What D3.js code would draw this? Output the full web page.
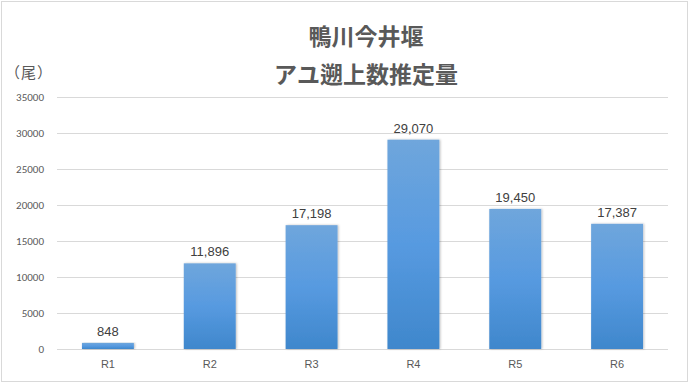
<!DOCTYPE html>
<html><head><meta charset="utf-8">
<script src="https://cdn.jsdelivr.net/npm/d3@7"></script>
<style>body{margin:0;background:#fff;}svg{display:block;}</style>
</head><body>
<script>
const categories = ["R1","R2","R3","R4","R5","R6"];
const values = [848, 11896, 17198, 29070, 19450, 17387];
const yTicks = [0,5000,10000,15000,20000,25000,30000,35000];
const titleLines = ["鴨川今井堰","アユ遡上数推定量"];
const unitLabel = "（尾）";

const W = 690, H = 384;
const svg = d3.select("body").append("svg").attr("width", W).attr("height", H);
const defs = svg.append("defs");
const grad = defs.append("linearGradient").attr("id","barGrad").attr("x1",0).attr("y1",0).attr("x2",0).attr("y2",1);
grad.append("stop").attr("offset","0%").attr("stop-color","#6fa6dc");
grad.append("stop").attr("offset","50%").attr("stop-color","#579ae0");
grad.append("stop").attr("offset","100%").attr("stop-color","#3f87cc");
const flt = defs.append("filter").attr("id","shadow").attr("x","-20%").attr("y","-5%").attr("width","140%").attr("height","110%");
flt.append("feDropShadow").attr("dx",1).attr("dy",0).attr("stdDeviation",1.2).attr("flood-color","#000").attr("flood-opacity",0.25);

svg.append("rect").attr("x",1.5).attr("y",1.5).attr("width",686).attr("height",380)
  .attr("fill","#fff").attr("stroke","#d9d9d9").attr("stroke-width",1);

const x = d3.scaleBand().domain(categories).range([57, 668]).paddingInner(0.49).paddingOuter(0.245);
const y = d3.scaleLinear().domain([0,35000]).range([349, 97]);

const font = "'Noto Sans CJK JP','Noto Sans',sans-serif";

// gridlines
svg.append("g").selectAll("line").data(yTicks).join("line")
  .attr("x1",57).attr("x2",668)
  .attr("y1",d=>Math.round(y(d))+0.5).attr("y2",d=>Math.round(y(d))+0.5)
  .attr("stroke","#d9d9d9").attr("stroke-width",1);

// y axis labels
const yAxis = d3.axisLeft(y).tickValues(yTicks).tickSize(0).tickPadding(0).tickFormat(d3.format("d"));
const ga = svg.append("g").attr("transform","translate(44,0)").call(yAxis);
ga.select(".domain").remove();
ga.selectAll("text").attr("fill","#595959").style("font-family","'Calibri','Carlito','Liberation Sans',sans-serif").style("font-size","11px");

// bars
svg.append("g").selectAll("rect").data(values).join("rect")
  .attr("x",(d,i)=>x(categories[i]))
  .attr("width",x.bandwidth())
  .attr("y",d=>y(d))
  .attr("height",d=>y(0)-y(d))
  .attr("fill","url(#barGrad)")
  .attr("filter","url(#shadow)");

// data labels
svg.append("g").selectAll("text").data(values).join("text")
  .attr("x",(d,i)=>x(categories[i])+x.bandwidth()/2)
  .attr("y",d=>y(d)-7)
  .attr("text-anchor","middle")
  .attr("fill","#404040")
  .style("font-family","'Liberation Sans','Noto Sans',sans-serif")
  .style("font-size","13px")
  .text(d=>d3.format(",")(d));

// x axis labels
const xAxis = d3.axisBottom(x).tickSize(0).tickPadding(0);
const gx = svg.append("g").attr("transform","translate(0,360)").call(xAxis);
gx.select(".domain").remove();
gx.selectAll("text").attr("fill","#595959").style("font-family","'Liberation Sans',sans-serif").style("font-size","11px");

// titles
svg.append("text").attr("x",366).attr("y",45).attr("text-anchor","middle")
  .attr("fill","#595959").style("font-family",font).style("font-weight","bold").style("font-size","23px")
  .text(titleLines[0]);
svg.append("text").attr("x",366).attr("y",83).attr("text-anchor","middle")
  .attr("fill","#595959").style("font-family",font).style("font-weight","bold").style("font-size","23px")
  .text(titleLines[1]);
svg.append("text").attr("x",5).attr("y",78)
  .attr("fill","#595959").style("font-family",font).style("font-size","15px").style("letter-spacing","1px")
  .text(unitLabel);
</script>
</body></html>
